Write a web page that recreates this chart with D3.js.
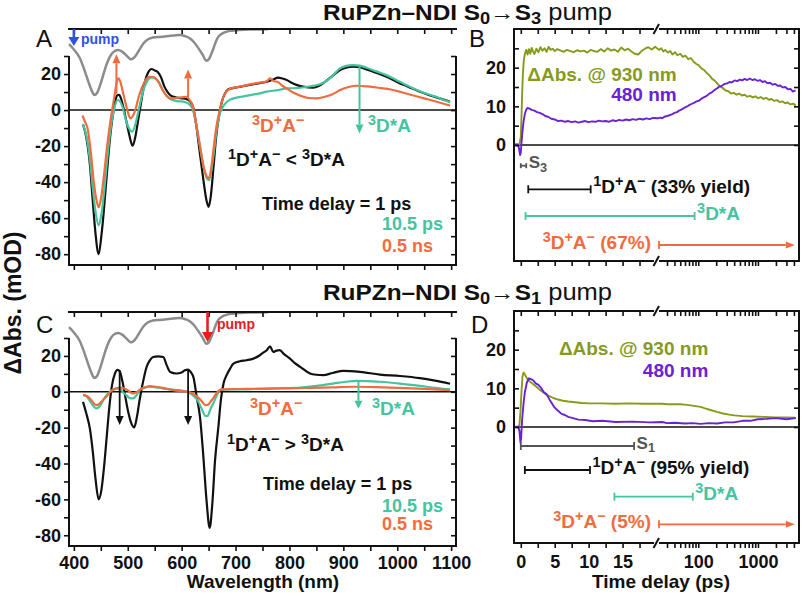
<!DOCTYPE html>
<html><head><meta charset="utf-8">
<script src="https://cdn.jsdelivr.net/npm/d3@7"></script>
<style>body{margin:0;background:#fff}svg{display:block}text{white-space:pre}</style>
</head><body><script>
// ================= DATA =================
// ground-state absorption (normalised, plotted inverted at top of A and C)
const groundAbs = [[391,0.23],[400,0.31],[411,0.44],[420,0.63],[427,0.8],[433,0.93],[438,1.0],[443,0.97],[448,0.87],[454,0.71],[461,0.53],[467,0.42],[473,0.35],[482,0.32],[489,0.34],[495,0.38],[501,0.43],[506,0.46],[511,0.44],[516,0.39],[522,0.31],[529,0.22],[537,0.16],[547,0.13],[560,0.12],[572,0.11],[585,0.1],[597,0.09],[607,0.11],[615,0.14],[623,0.2],[631,0.29],[639,0.39],[646,0.48],[651,0.45],[655,0.38],[660,0.27],[664,0.18],[668,0.12],[675,0.07],[684,0.04],[695,0.025],[708,0.015],[730,0.008],[760,0.004]];

// Panel A: S0->S3 pump transient spectra (mOD)
const specA_1ps = [[417,-8],[423,-15],[430,-31],[435,-50],[440,-68],[446,-80],[451,-70],[455,-58],[460,-40],[465,-22],[470,-8],[475,2],[480,8],[484,8.5],[488,6],[493,0],[498,-7],[503,-14],[509,-19.8],[514,-15],[518,-8],[523,1],[528,10],[533,17],[538,21],[544,22.8],[550,22],[556,21],[562,18],[568,13],[574,10],[580,8],[590,7],[600,6.5],[608,6.2],[615,5],[621,2],[627,-8],[633,-22],[640,-38],[646,-50],[650,-53.7],[654,-48],[659,-32],[664,-15],[670,-2],[675,5],[680,9],[686,11.5],[695,12.2],[710,13],[727,14],[745,15],[758,15.7],[770,17],[779,18],[787,17.5],[795,16.7],[805,15],[813,14],[825,13],[844,12.4],[855,13.5],[866,15.7],[880,19],[894,22.2],[905,23.5],[918,24.1],[930,23.8],[943,22.6],[960,20.8],[980,18.5],[1005,14.8],[1020,13],[1042,10.2],[1070,7.3],[1098,4.6]];
const specA_10ps = [[417,-8],[423,-14],[430,-28],[435,-43],[440,-56],[446,-64],[451,-58],[456,-46],[461,-30],[466,-16],[471,-5],[476,2],[481,5.6],[485,5],[490,2],[496,-5],[502,-10],[508,-12],[513,-9],[518,-3],[524,5],[530,12],[537,16.5],[544,18.1],[551,17.5],[558,15.5],[565,11],[572,8],[580,6],[592,5],[606,4.5],[615,3],[621,0],[627,-8],[634,-20],[641,-32],[647,-38],[651,-38.9],[655,-34],[660,-23],[665,-11],[670,-3],[675,1],[682,4],[690,5.8],[700,6.8],[715,7.6],[727,8.3],[745,9.3],[758,10.2],[779,11.1],[795,12],[813,12.2],[830,12.8],[844,13.5],[855,14.2],[866,15.7],[880,19],[894,23.2],[905,24.5],[918,25],[930,24.7],[943,23.5],[960,21.6],[980,19.4],[1005,15.7],[1020,13.5],[1042,10.5],[1070,7.5],[1098,4.3]];
const specA_05ns = [[416,-3],[420,-6],[426,-11],[432,-25],[437,-40],[442,-50],[446,-54],[451,-48],[456,-36],[461,-22],[466,-10],[471,0],[476,9],[480,16],[483,17.6],[487,15],[491,10],[495,5],[500,-1],[505,-4.6],[510,-3],[515,1],[520,7],[527,13],[534,17],[540,18.4],[546,18.5],[552,17.5],[558,15],[565,11],[572,8],[580,6.5],[590,6.7],[600,7],[609,7.4],[615,5.5],[621,2],[627,-8],[634,-20],[641,-32],[647,-37],[650,-38],[654,-34],[659,-22],[664,-10],[670,-1],[676,6],[683,10.2],[690,11.8],[700,12.6],[715,13.4],[727,14.3],[745,15.2],[758,16],[764,17.6],[770,16.2],[779,15.5],[787,13.5],[795,12],[805,10],[820,8],[835,6.7],[850,6.5],[866,7.4],[880,8.8],[894,11.1],[910,12.8],[925,13.5],[945,13.1],[965,12.4],[990,11.3],[1005,10.2],[1025,8.5],[1050,6.5],[1075,4.5],[1098,2.5]];

// Panel C: S0->S1 pump transient spectra (mOD)
const specC_1ps = [[417,-5.6],[423,-12],[430,-21],[435,-33],[440,-48],[446,-60],[451,-55],[456,-42],[461,-25],[466,-8],[471,4],[476,10],[481,12.2],[485,11.5],[490,6],[495,-2],[500,-10],[506,-17],[512,-19.8],[517,-14],[522,-4.6],[528,5],[535,13.9],[541,17.5],[547,19.4],[556,19.8],[566,19.4],[572,15],[579,11],[590,10.2],[600,10.8],[606,12],[612,12.4],[617,11],[622,8],[628,-3],[634,-14],[640,-35],[646,-60],[652,-75.9],[657,-62],[662,-38],[668,-20],[673,-4],[678,5],[683,9],[690,13],[696,15.7],[708,17],[720,17.6],[733,18.5],[745,20.4],[752,22],[758,23.2],[764,25.4],[770,22.2],[776,23],[782,23.2],[790,21],[801,18.5],[810,16],[820,13.9],[838,10.2],[850,9.5],[863,9.3],[880,10.5],[900,11.7],[931,11.1],[968,9.6],[1005,8.8],[1042,7.6],[1070,6.2],[1098,4.5]];
const specC_10ps = [[417,-1.8],[425,-3],[432,-6],[438,-8.5],[442,-9.3],[447,-8.5],[452,-6],[458,-3],[465,-0.5],[473,1.3],[480,1.9],[486,1.5],[492,-0.5],[498,-2],[504,-3.5],[510,-3.7],[516,-2],[522,0.9],[530,2.2],[541,2.8],[552,2.5],[565,1.9],[580,1.2],[595,0.9],[610,0],[620,-1.8],[630,-5],[638,-10],[644,-13.5],[648,-13.5],[653,-10],[660,-5.6],[666,-1.5],[671,0.9],[680,1.2],[696,1.3],[720,1.4],[760,1.8],[790,2],[820,2.4],[850,3.3],[881,4.6],[905,5.6],[925,6.1],[945,6],[968,5.6],[1005,4.6],[1042,3.3],[1070,2.2],[1098,1.3]];
const specC_05ns = [[417,-1.8],[425,-2.5],[432,-4.5],[438,-6.8],[442,-7.4],[447,-6.8],[453,-5],[460,-2.8],[468,0],[476,1.5],[485,2.4],[492,2],[500,0.9],[505,-0.3],[510,-0.9],[516,-0.3],[522,1],[530,2.3],[541,3.2],[552,2.8],[565,2.2],[580,1.2],[595,0.5],[610,0],[620,-0.9],[630,-3],[638,-5.5],[644,-7.4],[649,-7.2],[655,-5],[661,-2.5],[667,0],[673,1.3],[690,1.5],[720,1.6],[760,1.8],[800,1.9],[840,2.2],[880,2.5],[920,2.8],[960,2.6],[1000,2.2],[1050,1.6],[1098,0.9]];

// Panel B: kinetics (time ps, mOD) S0->S3 pump
const kinB_930 = [[-0.9,0.2],[-0.5,-0.3],[-0.2,0.3],[0,2],[0.1,7],[0.2,13],[0.3,18],[0.45,22],[0.6,23.5],[0.8,24.6],[1.0,23.4],[1.2,24.8],[1.4,23.6],[1.6,25.1],[1.8,24.2],[2.0,23.5],[2.3,24.9],[2.6,24.0],[2.9,25.3],[3.2,24.4],[3.5,25.0],[3.8,24.1],[4.1,25.4],[4.4,24.6],[4.7,24.9],[5.0,24.3],[5.4,24.8],[5.8,24.5],[6.3,24.1],[6.8,24.6],[7.3,24.3],[7.8,24.0],[8.3,24.5],[8.8,24.2],[9.3,24.4],[9.8,23.9],[10.3,24.6],[10.8,24.3],[11.3,24.1],[11.8,24.8],[12.3,24.2],[12.8,25.0],[13.3,24.4],[13.8,24.7],[14.3,24.1],[14.8,25.2],[15.3,24.5],[15.8,24.9],[16.3,24.2],[16.8,23.6],[17.3,23.4],[17.8,24.3],[18.3,24.9],[18.8,25.3],[19.3,24.7],[19.8,25.4],[22,24.6],[24,25.0],[26,24.2],[28,24.6],[31,23.9],[34,24.3],[37,23.4],[41,24.0],[45,23.2],[50,23.6],[55,22.8],[61,23.1],[68,22.2],[75,22.5],[83,21.6],[92,21.0],[102,20.6],[113,19.8],[125,19.4],[139,18.6],[154,18.0],[171,17.1],[190,16.6],[211,15.8],[234,15.1],[260,14.7],[288,14.1],[320,13.9],[355,13.3],[394,13.5],[437,13.0],[485,13.3],[538,12.8],[597,13.0],[663,12.5],[736,12.7],[816,12.3],[906,12.6],[1005,12.1],[1115,12.4],[1237,11.9],[1373,12.2],[1523,11.7],[1690,11.9],[1875,11.4],[2081,11.6],[2309,11.1],[2562,11.3],[2843,10.8],[3155,11.0],[3500,10.5],[3884,10.7],[4300,10.2]];
const kinB_480 = [[-0.9,0.1],[-0.5,0.2],[-0.3,-0.5],[-0.1,-2.6],[0,-2],[0.1,0.5],[0.25,3.5],[0.4,6],[0.6,8],[0.8,9.1],[1.0,9.6],[1.3,9.4],[1.6,9.1],[2.0,8.9],[2.4,8.5],[2.8,8.3],[3.2,8.0],[3.6,7.5],[4.0,7.3],[4.5,6.8],[5.0,6.6],[5.5,6.2],[6.0,6.3],[6.5,6.0],[7.0,6.2],[7.5,5.9],[8.0,6.1],[8.5,5.8],[9.0,6.0],[9.5,6.2],[10.0,5.9],[10.5,6.1],[11.0,6.0],[11.5,6.3],[12.0,6.1],[12.5,6.2],[13.0,6.0],[13.5,6.4],[14.0,6.2],[14.5,6.5],[15.0,6.3],[15.5,6.6],[16.0,6.4],[16.5,6.7],[17.0,6.5],[17.5,6.8],[18.0,6.6],[18.5,6.9],[19.0,6.7],[19.5,7.0],[21,6.9],[23,7.1],[25,6.9],[27,7.3],[30,7.5],[33,7.7],[36,7.9],[40,8.3],[44,8.5],[48,8.9],[53,9.2],[58,9.6],[64,9.9],[70,10.3],[77,10.6],[85,10.9],[94,11.3],[104,11.5],[114,12.0],[126,12.4],[139,12.7],[153,13.3],[169,13.6],[186,14.2],[205,14.6],[226,15.1],[249,15.3],[275,15.8],[303,15.9],[334,16.3],[368,16.2],[406,16.7],[448,16.5],[494,16.9],[544,16.7],[600,17.1],[662,16.8],[730,17.2],[805,16.8],[888,17.0],[979,16.6],[1080,16.8],[1191,16.3],[1313,16.5],[1448,16.0],[1597,16.1],[1761,15.6],[1942,15.8],[2142,15.3],[2362,15.4],[2605,14.9],[2873,15.0],[3168,14.4],[3494,14.5],[3853,13.8],[4250,14.1]];

// Panel D: kinetics S0->S1 pump
const kinD_930 = [[-0.9,0],[-0.4,0],[-0.2,0.5],[-0.05,4],[0.1,9],[0.25,13],[0.4,14.1],[0.6,13.6],[0.9,12.6],[1.3,11.8],[1.8,11.1],[2.3,10.4],[2.8,9.6],[3.3,9.0],[3.8,8.3],[4.3,7.9],[4.8,7.5],[5.5,7.1],[6.2,6.8],[7,6.6],[8,6.4],[9,6.2],[10,6.1],[12,6.1],[14,6.0],[16,6.1],[18,6.0],[20,6.0],[25,6.0],[30,5.9],[40,5.9],[50,5.9],[60,5.8],[75,5.6],[90,5.4],[110,5.2],[130,4.8],[160,4.4],[207,3.9],[260,3.5],[330,3.2],[400,3.0],[550,2.8],[800,2.7],[1300,2.6],[2000,2.5],[3000,2.5],[4300,2.4]];
const kinD_480 = [[-0.9,0],[-0.4,0.1],[-0.2,-1],[-0.05,-4],[0.05,-3],[0.2,2],[0.4,6],[0.6,9],[0.9,11.5],[1.2,12.6],[1.5,12.4],[1.8,12.1],[2.2,11.3],[2.6,10.9],[3.0,10.1],[3.4,9.0],[3.8,8.5],[4.2,7.2],[4.6,6.1],[5.0,5.0],[5.5,4.2],[6,3.4],[6.5,3.1],[7,2.6],[7.7,2.3],[8.5,1.9],[9.5,1.8],[10.6,1.5],[12,1.6],[14,1.3],[16.5,1.4],[19,1.2],[25,1.3],[30,1.0],[40,1.1],[60,0.9],[80,1.0],[110,0.8],[150,1.0],[207,0.9],[280,1.2],[392,1.2],[550,1.6],[740,1.6],[1000,2.0],[1410,2.1],[2000,2.3],[3000,2.0],[4300,2.3]];

// kinetic-scheme bars (time intervals, ps)
const barsB = [{state:'S',t0:0,t1:0.8,label:'S_{3}'},{state:'CS1',t0:1.1,t1:10.3,label:'^{1}D^{+}A^{−} (33% yield)'},{state:'T',t0:0.7,t1:87,label:'^{3}D*A'},{state:'CS3',t0:22,t1:4140,label:'^{3}D^{+}A^{−} (67%)'}];
const barsD = [{state:'S',t0:0,t1:16.7,label:'S_{1}'},{state:'CS1',t0:0.6,t1:10.2,label:'^{1}D^{+}A^{−} (95% yield)'},{state:'T',t0:13.8,t1:81,label:'^{3}D*A'},{state:'CS3',t0:22,t1:4140,label:'^{3}D^{+}A^{−} (5%)'}];

// tick values / labels
const wlTicks = [400,450,500,550,600,650,700,750,800,850,900,950,1000,1050,1100];
const wlLabels = [400,500,600,700,800,900,1000,1100];
const mODTicks = [-80,-70,-60,-50,-40,-30,-20,-10,0,10,20,30];
const mODLabels = [-80,-60,-40,-20,0,20];
const kinYTicks = [0,5,10,15,20,25];
const kinYLabels = [0,10,20];
const tLinTicks = [0,2.5,5,7.5,10,12.5,15,17.5];
const tLinLabels = [0,5,10,15];
const tLogTicks = [30,40,50,60,70,80,90,100,200,300,400,500,600,700,800,900,1000,2000,3000,4000];
const tLogLabels = [100,1000];
const delays = ['1 ps','10.5 ps','0.5 ns'];

// ================= DRAW =================
const FONT = '"Liberation Sans", Arial, Helvetica, sans-serif';
const COL = {black:'#111111', teal:'#44c49f', orange:'#f06c3e', gray:'#8c8c8c', olive:'#889a1d', purple:'#6b22d3', blue:'#2f52e4', red:'#e4201c', dark:'#555555'};
const BARCOL = {S:COL.dark, CS1:COL.black, T:COL.teal, CS3:COL.orange};

const svg = d3.select('body').append('svg').attr('width',802).attr('height',597)
  .attr('font-family',FONT);

function rich(t, str, size){
  const parts = str.split(/(\^\{[^}]*\}|_\{[^}]*\})/).filter(s=>s!=='');
  let cur = 0;
  parts.forEach(p=>{
    let txt=p, off=0, fs=size;
    if(p.startsWith('^{')){txt=p.slice(2,-1); off=-0.36*size; fs=0.76*size;}
    else if(p.startsWith('_{')){txt=p.slice(2,-1); off=0.2*size; fs=0.75*size;}
    t.append('tspan').attr('dy',(off-cur).toFixed(2)).attr('font-size',fs).text(txt);
    cur=off;
  });
  return cur;
}
function label(g,x,y,str,o={}){
  const size=o.size||19;
  const t=g.append('text').attr('x',x).attr('y',y).attr('font-size',size)
    .attr('fill',o.color||COL.black).attr('text-anchor',o.anchor||'start')
    .attr('font-weight',o.weight||'bold');
  rich(t,str,size);
  return t;
}
function arrow(g,x1,y1,x2,y2,color,w=2,head=9,hw=4.2){
  const a=Math.atan2(y2-y1,x2-x1);
  const bx=x2-head*Math.cos(a), by=y2-head*Math.sin(a);
  g.append('line').attr('x1',x1).attr('y1',y1).attr('x2',bx).attr('y2',by)
    .attr('stroke',color).attr('stroke-width',w);
  const px=-Math.sin(a)*hw, py=Math.cos(a)*hw;
  g.append('path').attr('d',`M${x2},${y2}L${bx+px},${by+py}L${bx-px},${by-py}Z`).attr('fill',color);
}
function styleAxis(g){
  g.attr('font-family',FONT).attr('font-size',18).attr('font-weight','bold');
  g.select('.domain').remove();
  g.selectAll('line').attr('stroke',COL.black).attr('stroke-width',1.6);
  g.selectAll('text').attr('fill',COL.black);
}
function hline(g,x1,x2,y,w=2){g.append('line').attr('x1',x1).attr('x2',x2).attr('y1',y).attr('y2',y).attr('stroke',COL.black).attr('stroke-width',w);}
function vline(g,x,y1,y2,w=2){g.append('line').attr('x1',x).attr('x2',x).attr('y1',y1).attr('y2',y2).attr('stroke',COL.black).attr('stroke-width',w);}

// ---- wavelength panels ----
const xW = d3.scaleLinear().domain([391,1109]).range([69,456]);
function spectrumPanel(p){
  const g = svg.append('g');
  const L=xW.range()[0], R=xW.range()[1];
  const y = d3.scaleLinear().domain(p.yDom).range([p.bottom,p.top]);
  const ya = d3.scaleLinear().domain([0,1]).range([p.top,p.top+66]);
  hline(g,L,R,y(0),1.6);
  g.append('path').datum(groundAbs)
    .attr('d',d3.line().x(d=>xW(d[0])).y(d=>ya(d[1])).curve(d3.curveMonotoneX))
    .attr('fill','none').attr('stroke',COL.gray).attr('stroke-width',2.5);
  p.series.forEach(s=>{
    g.append('path').datum(s.data)
      .attr('d',d3.line().x(d=>xW(d[0])).y(d=>y(d[1])).curve(d3.curveMonotoneX))
      .attr('fill','none').attr('stroke',s.color).attr('stroke-width',2.2).attr('stroke-linejoin','round');
  });
  const top=g.append('g').attr('transform',`translate(0,${p.top})`)
    .call(d3.axisBottom(xW).tickValues(wlTicks).tickSize(5).tickFormat(''));
  const bot=g.append('g').attr('transform',`translate(0,${p.bottom})`)
    .call(d3.axisBottom(xW).tickValues(wlTicks).tickSize(5).tickPadding(5)
      .tickFormat(d=>p.xLabels && wlLabels.includes(d)? String(d):''));
  const left=g.append('g').attr('transform',`translate(${L},0)`)
    .call(d3.axisLeft(y).tickValues(mODTicks).tickSize(5).tickPadding(3)
      .tickFormat(d=>mODLabels.includes(d)? String(d):''));
  const right=g.append('g').attr('transform',`translate(${R},0)`)
    .call(d3.axisLeft(y).tickValues(mODTicks).tickSize(5).tickFormat(''));
  [top,bot,left,right].forEach(styleAxis);
  hline(g,L-1,R+1,p.top); hline(g,L-1,R+1,p.bottom);
  vline(g,L,y(30),p.bottom); vline(g,R,y(30),p.bottom);
  return {g,y};
}

const A = spectrumPanel({top:29,bottom:265,yDom:[-86,45],xLabels:false,
  series:[{data:specA_1ps,color:COL.black},{data:specA_10ps,color:COL.teal},{data:specA_05ns,color:COL.orange}]});
const C = spectrumPanel({top:312,bottom:546,yDom:[-86,44.5],xLabels:true,
  series:[{data:specC_1ps,color:COL.black},{data:specC_10ps,color:COL.teal},{data:specC_05ns,color:COL.orange}]});

// annotations A
arrow(A.g,xW(479),A.y(9),xW(479),A.y(31),COL.orange,2,9,4);
arrow(A.g,xW(612),A.y(7),xW(612),A.y(22.5),COL.orange,2,9,4);
arrow(A.g,xW(930),A.y(24),xW(930),A.y(-13),COL.teal,2,9,4);
arrow(A.g,xW(400),29,xW(400),46,COL.blue,2.6,9,5.5);
label(A.g,81,44,'pump',{size:14,color:COL.blue});
label(A.g,252,132,'^{3}D^{+}A^{−}',{color:COL.orange});
label(A.g,368,132,'^{3}D*A',{color:COL.teal});
label(A.g,228,166,'^{1}D^{+}A^{−} < ^{3}D*A');
label(A.g,262,210,'Time delay = '+delays[0],{size:18});
label(A.g,382,230,delays[1],{size:18,color:COL.teal});
label(A.g,382,251.5,delays[2],{size:18,color:COL.orange});

// annotations C
arrow(C.g,xW(485),C.y(12),xW(485),C.y(-18.5),COL.black,1.8,9,4);
arrow(C.g,xW(612),C.y(12),xW(612),C.y(-18.5),COL.black,1.8,9,4);
arrow(C.g,xW(928),C.y(6),xW(928),C.y(-9.5),COL.teal,2,8,4);
arrow(C.g,xW(648),312,xW(648),342,COL.red,2.6,10,5.5);
label(C.g,217,329,'pump',{size:14,color:COL.red});
label(C.g,250,415,'^{3}D^{+}A^{−}',{color:COL.orange});
label(C.g,372,415,'^{3}D*A',{color:COL.teal});
label(C.g,227,451,'^{1}D^{+}A^{−} > ^{3}D*A');
label(C.g,263,490,'Time delay = '+delays[0],{size:18});
label(C.g,382,511.5,delays[1],{size:18,color:COL.teal});
label(C.g,382,530,delays[2],{size:18,color:COL.orange});

// ---- kinetic panels ----
const KL=514, KR=799, BRK=656.5;
function kineticPanel(p){
  const g=svg.append('g');
  const y=d3.scaleLinear().domain([-30,30]).range([p.bottom,p.top]);
  const lin=d3.scaleLinear().domain([-1,20]).range([KL,BRK]);
  const lg=d3.scaleLog().domain([20,4870]).range([BRK,KR]);
  const tx=t=> t<=20? lin(t): lg(t);
  hline(g,KL,KR,y(0),1.6);
  p.series.forEach(s=>{
    g.append('path').datum(s.data)
      .attr('d',d3.line().x(d=>tx(d[0])).y(d=>y(d[1])))
      .attr('fill','none').attr('stroke',s.color).attr('stroke-width',1.9).attr('stroke-linejoin','round');
  });
  const axes=[];
  [p.top,p.bottom].forEach((yy,i)=>{
    axes.push(g.append('g').attr('transform',`translate(0,${yy})`)
      .call(d3.axisBottom(lin).tickValues(tLinTicks).tickSize(5).tickPadding(7)
        .tickFormat(d=> i===1 && p.xLabels && tLinLabels.includes(d)? String(d):'')));
    axes.push(g.append('g').attr('transform',`translate(0,${yy})`)
      .call(d3.axisBottom(lg).tickValues(tLogTicks).tickSize(5).tickPadding(7)
        .tickFormat(d=> i===1 && p.xLabels && tLogLabels.includes(d)? String(d):'')));
  });
  axes.push(g.append('g').attr('transform',`translate(${KL},0)`)
    .call(d3.axisLeft(y).tickValues(kinYTicks).tickSize(-5).tickPadding(8)
      .tickFormat(d=>kinYLabels.includes(d)? String(d):'')));
  axes.push(g.append('g').attr('transform',`translate(${KR},0)`)
    .call(d3.axisRight(y).tickValues(kinYTicks).tickSize(-5).tickFormat('')));
  axes.forEach(styleAxis);
  hline(g,KL-1,KR+1,p.top); hline(g,KL-1,KR+1,p.bottom);
  vline(g,KL,p.top,p.bottom); vline(g,KR,p.top,p.bottom);
  // axis break marks
  [p.top,p.bottom].forEach(yy=>{
    g.append('rect').attr('x',BRK-2.5).attr('y',yy-3).attr('width',5).attr('height',6).attr('fill','#fff');
    g.append('line').attr('x1',BRK-3).attr('y1',yy+5).attr('x2',BRK+2.5).attr('y2',yy-5)
      .attr('stroke',COL.black).attr('stroke-width',2);
  });
  // kinetic scheme bars
  p.bars.forEach((b,i)=>{
    const yy=p.rows[i], c=BARCOL[b.state], x0=tx(b.t0), x1=tx(b.t1);
    const cap = b.state==='S' && b.t1<2 ? 2.5 : 4;
    if(b.state==='CS3'){
      arrow(g,x0,yy,x1,yy,c,1.8,9,3.5);
      g.append('line').attr('x1',x0).attr('x2',x0).attr('y1',yy-cap).attr('y2',yy+cap).attr('stroke',c).attr('stroke-width',1.8);
      label(g,x0-8,yy+4,b.label,{color:c,anchor:'end'});
    } else {
      g.append('line').attr('x1',x0).attr('x2',x1).attr('y1',yy).attr('y2',yy).attr('stroke',c).attr('stroke-width',1.8);
      [x0,x1].forEach(xx=>g.append('line').attr('x1',xx).attr('x2',xx).attr('y1',yy-cap).attr('y2',yy+cap).attr('stroke',c).attr('stroke-width',1.8));
      label(g,x1+2.5,yy+(b.state==='S'?2.5:3.5),b.label,{color:c,size:b.state==='S'?17:19});
    }
  });
  return {g,y,tx};
}
const B = kineticPanel({top:29,bottom:261,xLabels:false,
  series:[{data:kinB_930,color:COL.olive},{data:kinB_480,color:COL.purple}],
  bars:barsB, rows:[165.7,189.3,216,245]});
const D = kineticPanel({top:311,bottom:543,xLabels:true,
  series:[{data:kinD_930,color:COL.olive},{data:kinD_480,color:COL.purple}],
  bars:barsD, rows:[446,470,496.7,524.3]});

label(B.g,676.7,81,'ΔAbs. @ 930 nm',{size:19,color:COL.olive,anchor:'end'});
label(B.g,676.7,100.5,'480 nm',{size:19,color:COL.purple,anchor:'end'});
label(D.g,708.3,355,'ΔAbs. @ 930 nm',{size:19,color:COL.olive,anchor:'end'});
label(D.g,708.3,377,'480 nm',{size:19,color:COL.purple,anchor:'end'});

// ---- titles, panel letters, axis titles ----
function title(x,y,str){
  const t=svg.append('text').attr('x',x).attr('y',y).attr('font-size',22).attr('font-weight','bold').attr('fill',COL.black)
    .attr('textLength',289).attr('lengthAdjust','spacingAndGlyphs');
  const sh=rich(t,str,22);
  t.append('tspan').attr('dy',(-sh).toFixed(2)).attr('font-weight','normal').attr('font-size',23).text(' pump');
}
title(323,19.5,'RuPZn–NDI S_{0}→S_{3}');
title(323,299.5,'RuPZn–NDI S_{0}→S_{1}');
[['A',36,47],['B',469,47],['C',36,333],['D',471,333]].forEach(([s,x,yy])=>
  svg.append('text').attr('x',x).attr('y',yy).attr('font-size',24).attr('fill',COL.black).text(s));
svg.append('text').attr('transform','translate(21,303) rotate(-90)').attr('text-anchor','middle')
  .attr('font-size',23).attr('font-weight','bold').attr('fill',COL.black).text('ΔAbs. (mOD)');
svg.append('text').attr('x',263).attr('y',588).attr('text-anchor','middle')
  .attr('font-size',19).attr('font-weight','bold').attr('fill',COL.black).text('Wavelength (nm)');
svg.append('text').attr('x',661).attr('y',588).attr('text-anchor','middle')
  .attr('font-size',19).attr('font-weight','bold').attr('fill',COL.black).text('Time delay (ps)');
</script></body></html>
